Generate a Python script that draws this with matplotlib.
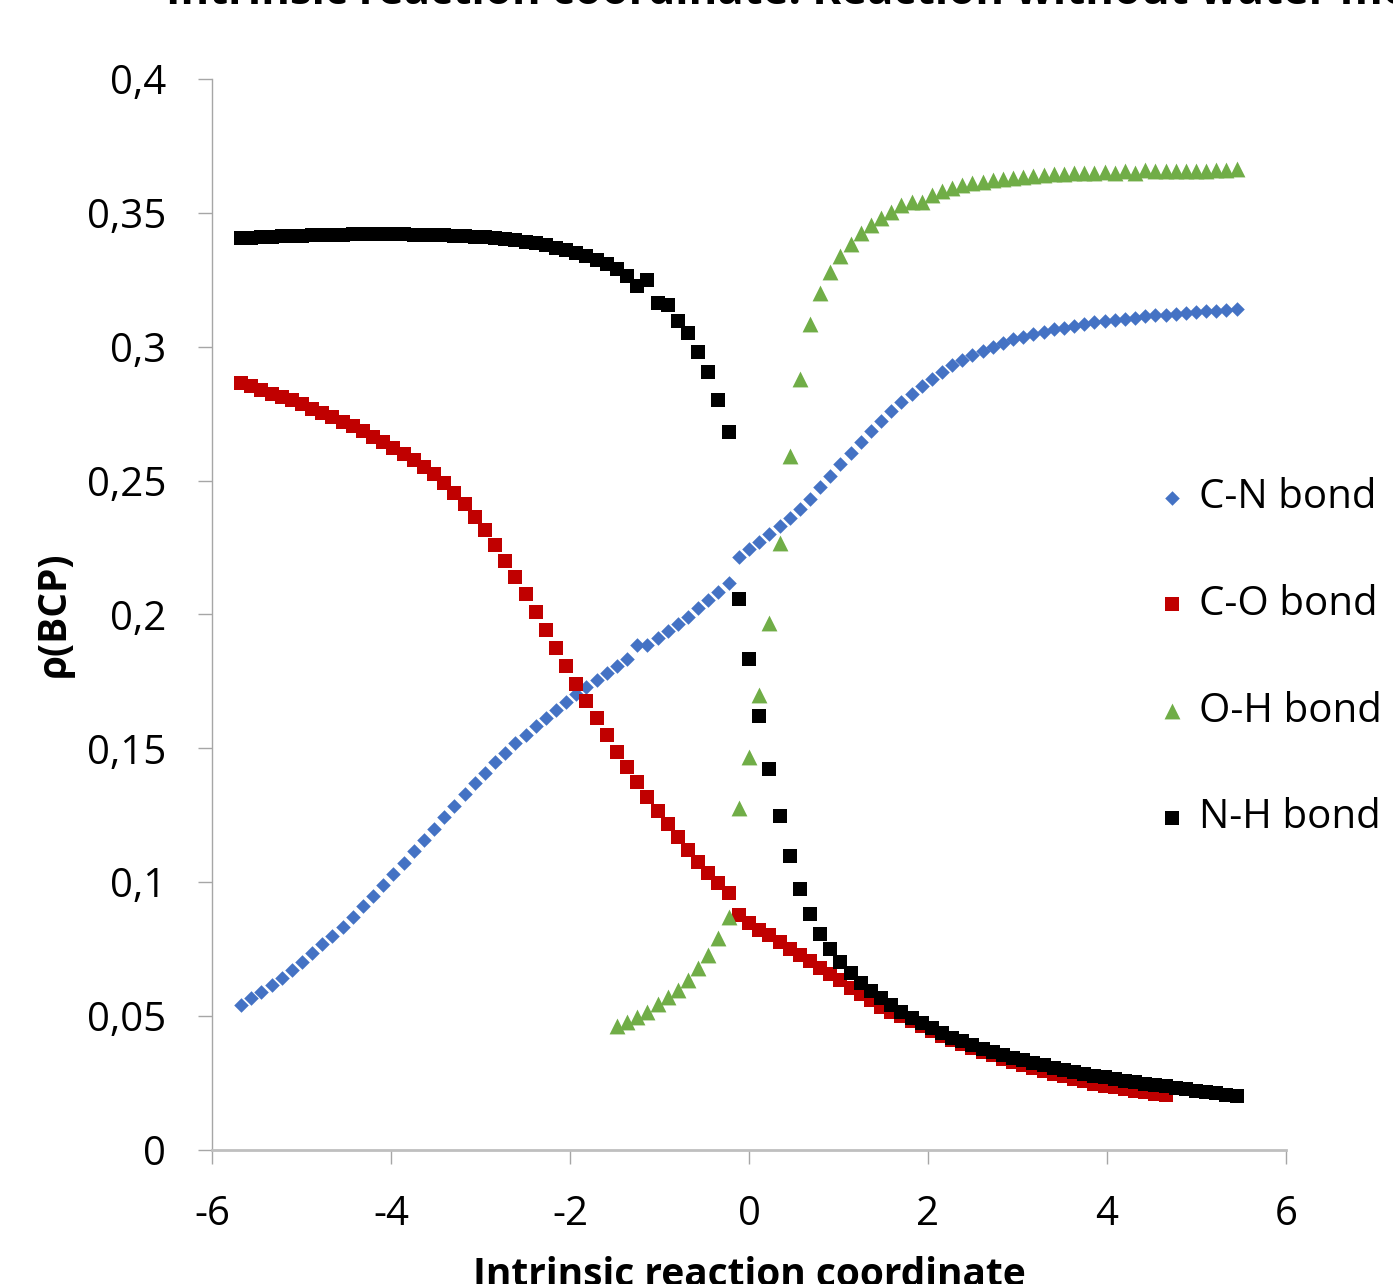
import matplotlib
matplotlib.use("Agg")
import matplotlib.pyplot as plt

plt.rcParams['font.family'] = ['Open Sans', 'DejaVu Sans']

# IRC points (reverse branch / forward branch)
irc_left = [-5.675, -5.562, -5.448, -5.335, -5.221, -5.108, -4.994, -4.881, -4.767, -4.654,
            -4.540, -4.427, -4.313, -4.200, -4.086, -3.973, -3.859, -3.746, -3.632, -3.519,
            -3.405, -3.292, -3.178, -3.065, -2.951, -2.838, -2.724, -2.611, -2.497, -2.384,
            -2.270, -2.157, -2.043, -1.930, -1.816, -1.703, -1.589, -1.476, -1.362, -1.249,
            -1.135, -1.022, -0.908, -0.795, -0.681, -0.568, -0.454, -0.341, -0.227]
irc_right = [-0.114, 0.000, 0.114, 0.227, 0.341, 0.454, 0.568, 0.681, 0.795, 0.908,
             1.022, 1.135, 1.249, 1.362, 1.476, 1.589, 1.703, 1.816, 1.930, 2.043,
             2.157, 2.270, 2.384, 2.497, 2.611, 2.724, 2.838, 2.951, 3.065, 3.178,
             3.292, 3.405, 3.519, 3.632, 3.746, 3.859, 3.973, 4.086, 4.200, 4.313,
             4.427, 4.540, 4.654, 4.767, 4.881, 4.994, 5.108, 5.221, 5.335, 5.448]

# rho at bond critical points
cn_left = [0.0542, 0.0566, 0.0591, 0.0616, 0.0644, 0.0672, 0.0703, 0.0735, 0.0768, 0.0800,
           0.0834, 0.0871, 0.0912, 0.0948, 0.0989, 0.1030, 0.1072, 0.1116, 0.1157, 0.1199,
           0.1244, 0.1286, 0.1328, 0.1370, 0.1409, 0.1448, 0.1484, 0.1519, 0.1550, 0.1584,
           0.1615, 0.1645, 0.1673, 0.1703, 0.1730, 0.1755, 0.1783, 0.1809, 0.1835, 0.1886,
           0.1886, 0.1913, 0.1938, 0.1966, 0.1992, 0.2023, 0.2053, 0.2084, 0.2116]
cn_right = [0.2214, 0.2243, 0.2271, 0.2301, 0.2331, 0.2359, 0.2393, 0.2433, 0.2475, 0.2517,
            0.2562, 0.2602, 0.2645, 0.2685, 0.2724, 0.2761, 0.2794, 0.2824, 0.2853, 0.2881,
            0.2907, 0.2931, 0.2949, 0.2969, 0.2985, 0.2998, 0.3013, 0.3028, 0.3038, 0.3049,
            0.3056, 0.3065, 0.3071, 0.3077, 0.3085, 0.3091, 0.3096, 0.3100, 0.3104, 0.3108,
            0.3114, 0.3117, 0.3120, 0.3123, 0.3126, 0.3128, 0.3132, 0.3135, 0.3136, 0.3140]

co_left = [0.2865, 0.2852, 0.2837, 0.2825, 0.2812, 0.2800, 0.2785, 0.2769, 0.2753, 0.2738,
           0.2719, 0.2703, 0.2684, 0.2663, 0.2644, 0.2623, 0.2601, 0.2576, 0.2551, 0.2524,
           0.2490, 0.2453, 0.2412, 0.2365, 0.2316, 0.2260, 0.2201, 0.2139, 0.2075, 0.2008,
           0.1941, 0.1874, 0.1808, 0.1742, 0.1676, 0.1612, 0.1550, 0.1488, 0.1430, 0.1373,
           0.1317, 0.1266, 0.1216, 0.1168, 0.1122, 0.1077, 0.1035, 0.0996, 0.0959]
co_right = [0.0876, 0.0848, 0.0823, 0.0802, 0.0777, 0.0752, 0.0729, 0.0705, 0.0680, 0.0656,
            0.0634, 0.0606, 0.0584, 0.0559, 0.0534, 0.0514, 0.0499, 0.0481, 0.0462, 0.0443,
            0.0427, 0.0412, 0.0396, 0.0381, 0.0367, 0.0354, 0.0340, 0.0328, 0.0316, 0.0305,
            0.0295, 0.0285, 0.0275, 0.0266, 0.0258, 0.0248, 0.0240, 0.0234, 0.0228, 0.0221,
            0.0215, 0.0210, 0.0204]

oh_left = [0.0463, 0.0479, 0.0498, 0.0517, 0.0544, 0.0570, 0.0598, 0.0635, 0.0679, 0.0728,
           0.0791, 0.0871]
oh_right = [0.1276, 0.1469, 0.1699, 0.1967, 0.2268, 0.2592, 0.2881, 0.3085, 0.3202, 0.3278,
            0.3339, 0.3383, 0.3424, 0.3454, 0.3481, 0.3503, 0.3528, 0.3542, 0.3542, 0.3566,
            0.3580, 0.3592, 0.3603, 0.3610, 0.3617, 0.3623, 0.3628, 0.3631, 0.3635, 0.3638,
            0.3641, 0.3644, 0.3646, 0.3650, 0.3650, 0.3649, 0.3651, 0.3647, 0.3655, 0.3649,
            0.3660, 0.3656, 0.3656, 0.3656, 0.3655, 0.3655, 0.3657, 0.3660, 0.3660, 0.3662]

nh_left = [0.3406, 0.3407, 0.3410, 0.3411, 0.3412, 0.3414, 0.3415, 0.3416, 0.3417, 0.3418,
           0.3418, 0.3420, 0.3420, 0.3420, 0.3420, 0.3420, 0.3420, 0.3418, 0.3418, 0.3417,
           0.3416, 0.3415, 0.3414, 0.3411, 0.3409, 0.3405, 0.3401, 0.3398, 0.3392, 0.3386,
           0.3379, 0.3370, 0.3360, 0.3349, 0.3338, 0.3325, 0.3309, 0.3290, 0.3263, 0.3227,
           0.3249, 0.3163, 0.3157, 0.3095, 0.3051, 0.2979, 0.2907, 0.2800, 0.2682]
nh_right = [0.2058, 0.1835, 0.1620, 0.1423, 0.1249, 0.1098, 0.0974, 0.0880, 0.0807, 0.0750,
            0.0703, 0.0660, 0.0625, 0.0594, 0.0567, 0.0540, 0.0514, 0.0492, 0.0474, 0.0454,
            0.0437, 0.0419, 0.0406, 0.0392, 0.0378, 0.0366, 0.0355, 0.0345, 0.0335, 0.0325,
            0.0316, 0.0307, 0.0300, 0.0291, 0.0284, 0.0278, 0.0272, 0.0264, 0.0258, 0.0253,
            0.0247, 0.0242, 0.0237, 0.0232, 0.0227, 0.0221, 0.0217, 0.0212, 0.0207, 0.0201]

x_ticks = [-6, -4, -2, 0, 2, 4, 6]
x_tick_labels = ['-6', '-4', '-2', '0', '2', '4', '6']
y_ticks = [0, 0.05, 0.1, 0.15, 0.2, 0.25, 0.3, 0.35, 0.4]
y_tick_labels = ['0', '0,05', '0,1', '0,15', '0,2', '0,25', '0,3', '0,35', '0,4']

fig = plt.figure(figsize=(13.93, 12.84), dpi=100)
ax = fig.add_axes([0.1522, 0.1044, 0.7710, 0.8341])

ax.scatter(irc_left + irc_right, cn_left + cn_right, marker='D', s=55,
           color='#4472C4', linewidths=0, label='C-N bond', zorder=3)
ax.scatter(irc_left + irc_right[:len(co_right)], co_left + co_right, marker='s', s=105,
           color='#C00000', linewidths=0, label='C-O bond', zorder=4)
ax.scatter(irc_left[-len(oh_left):] + irc_right, oh_left + oh_right, marker='^', s=130,
           color='#70AD47', linewidths=0, label='O-H bond', zorder=5)
ax.scatter(irc_left + irc_right, nh_left + nh_right, marker='s', s=100,
           color='#000000', linewidths=0, label='N-H bond', zorder=6)

ax.set_xlim(-6, 6)
ax.set_ylim(0, 0.4)
ax.set_xticks(x_ticks)
ax.set_xticklabels(x_tick_labels)
ax.set_yticks(y_ticks)
ax.set_yticklabels(y_tick_labels)

for side in ['top', 'right']:
    ax.spines[side].set_visible(False)
ax.spines['left'].set_color('#A6A6A6')
ax.spines['left'].set_linewidth(1.0)
ax.spines['bottom'].set_color('#BFBFBF')
ax.spines['bottom'].set_linewidth(2.0)
ax.tick_params(axis='y', length=10, width=1.0, color='#A6A6A6', pad=23, labelsize=29)
ax.tick_params(axis='x', length=10, width=1.0, color='#A6A6A6', pad=22, labelsize=29)

ax.set_ylabel('ρ(BCP)', fontsize=28, fontweight='bold')
ax.yaxis.set_label_coords(-0.129, 0.50)
fig.text(749 / 1393, -2 / 1284, 'Intrinsic reaction coordinate', ha='center', va='baseline',
         fontsize=28, fontweight='bold')
fig.text(166 / 1393, 1 - 4 / 1284, 'Intrinsic reaction coordinate: Reaction without water molecule',
         ha='left', va='baseline', fontsize=31.5, fontweight='bold')

ax.legend(loc='upper left', bbox_to_anchor=(1156 / 1393, 1 - 478 / 1284),
          bbox_transform=fig.transFigure, frameon=False, fontsize=29,
          handlelength=0.8, handletextpad=0.27, labelspacing=1.64,
          borderpad=0, borderaxespad=0, scatterpoints=1)

fig.savefig('out.png', dpi=100)
